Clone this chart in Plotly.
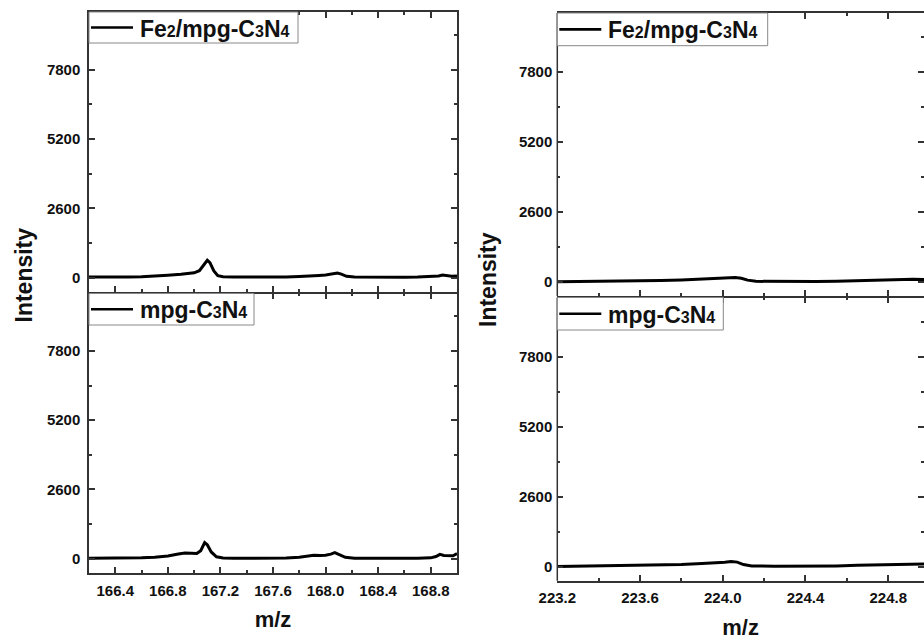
import plotly.graph_objects as go

# ---------------- data ----------------
mz_left_fe = [166.20, 166.30, 166.40, 166.50, 166.60, 166.70, 166.80, 166.90, 166.95, 167.00,
              167.04, 167.07, 167.10, 167.12, 167.15, 167.18, 167.22, 167.30, 167.40, 167.50,
              167.60, 167.70, 167.80, 167.88, 167.95, 168.00, 168.05, 168.09, 168.12, 168.16,
              168.22, 168.30, 168.40, 168.50, 168.60, 168.70, 168.80, 168.86, 168.89, 168.92,
              168.96, 169.00]
int_left_fe = [20, 15, 20, 20, 30, 50, 90, 125, 140, 180,
               260, 450, 650, 560, 250, 70, 30, 20, 15, 15,
               15, 20, 40, 75, 80, 95, 130, 170, 130, 50,
               20, 15, 15, 15, 15, 20, 30, 60, 100, 70,
               50, 60]

mz_left_mpg = [166.20, 166.30, 166.40, 166.50, 166.60, 166.70, 166.80, 166.88, 166.93, 166.98,
               167.02, 167.05, 167.08, 167.10, 167.13, 167.17, 167.22, 167.30, 167.40, 167.50,
               167.60, 167.70, 167.80, 167.87, 167.91, 167.96, 168.00, 168.04, 168.07, 168.10,
               168.15, 168.22, 168.30, 168.40, 168.50, 168.60, 168.70, 168.80, 168.84, 168.87,
               168.90, 168.94, 168.97, 169.00]
int_left_mpg = [15, 15, 15, 20, 30, 55, 100, 170, 210, 200,
                190, 300, 600, 520, 250, 70, 25, 15, 10, 10,
                15, 20, 50, 100, 125, 115, 125, 170, 225, 160,
                50, 15, 10, 10, 10, 10, 15, 30, 80, 160,
                120, 100, 110, 190]

mz_right_fe = [223.20, 223.30, 223.40, 223.50, 223.60, 223.70, 223.80, 223.90, 223.97, 224.02,
               224.06, 224.09, 224.12, 224.16, 224.25, 224.35, 224.45, 224.55, 224.65, 224.75,
               224.85, 224.92, 224.975]
int_right_fe = [10, 15, 15, 20, 35, 55, 75, 100, 115, 140,
                165, 140, 70, 25, 15, 15, 15, 25, 45, 70,
                100, 105, 95]

mz_right_mpg = [223.20, 223.30, 223.40, 223.50, 223.60, 223.70, 223.80, 223.90, 223.97, 224.01,
                224.04, 224.07, 224.10, 224.14, 224.25, 224.35, 224.45, 224.55, 224.65, 224.75,
                224.85, 224.93, 224.975]
int_right_mpg = [10, 25, 25, 30, 45, 60, 85, 120, 140, 170,
                 190, 170, 80, 30, 20, 15, 20, 30, 50, 70,
                 95, 110, 100]

y_tickvals = [0, 2600, 5200, 7800]
x_left_ticks = [166.4, 166.8, 167.2, 167.6, 168.0, 168.4, 168.8]
x_right_ticks = [223.2, 223.6, 224.0, 224.4, 224.8]

SUB = "<span style='font-size:16px'>{}</span>"
label_fe = "<b>Fe" + SUB.format("2") + "/mpg-C" + SUB.format("3") + "N" + SUB.format("4") + "</b>"
label_mpg = "<b>mpg-C" + SUB.format("3") + "N" + SUB.format("4") + "</b>"

# ---------------- layout helpers ----------------
W, H = 924, 640
def PX(x):
    return x / W
def PY(y):
    return 1 - y / H

FONT = "Liberation Sans, Arial, sans-serif"
AXC = "#333333"

fig = go.Figure()
line = dict(color="black", width=3)
fig.add_trace(go.Scatter(x=mz_left_fe, y=int_left_fe, mode="lines", line=line, xaxis="x", yaxis="y", showlegend=False))
fig.add_trace(go.Scatter(x=mz_left_mpg, y=int_left_mpg, mode="lines", line=line, xaxis="x2", yaxis="y2", showlegend=False))
fig.add_trace(go.Scatter(x=mz_right_fe, y=int_right_fe, mode="lines", line=line, xaxis="x3", yaxis="y3", showlegend=False))
fig.add_trace(go.Scatter(x=mz_right_mpg, y=int_right_mpg, mode="lines", line=line, xaxis="x4", yaxis="y4", showlegend=False))

tickfont = dict(family=FONT, size=15, color="#111111", weight="bold")
minor_common = dict(ticks="inside", ticklen=3, tickwidth=1.5, tickcolor=AXC)

def xax(dom, rng, tickvals, anchor, labels, title=None):
    d = dict(domain=dom, range=rng, tickvals=tickvals, ticktext=[f"{v:.1f}" for v in tickvals],
             ticks="inside", ticklen=6, tickwidth=1.5, tickcolor=AXC,
             minor=dict(dtick=0.2, tick0=tickvals[0], **minor_common),
             showline=True, linecolor=AXC, linewidth=1.5, mirror="ticks",
             showgrid=False, zeroline=False, anchor=anchor, showticklabels=labels,
             tickfont=tickfont, ticklabelstandoff=3, automargin=False)
    if title:
        d["title"] = dict(text="<b>m/z</b>", font=dict(family=FONT, size=22, color="#111111"), standoff=14)
    return d

def yax(dom, rng, anchor, showline=True):
    return dict(domain=dom, range=rng, tickvals=y_tickvals, ticktext=[str(v) for v in y_tickvals],
                ticks="inside", ticklen=6, tickwidth=1.5, tickcolor=AXC,
                minor=dict(dtick=1300, tick0=0, **minor_common),
                showline=showline, linecolor=AXC, linewidth=1.5, mirror="ticks",
                showgrid=False, zeroline=False, anchor=anchor,
                tickfont=tickfont, ticklabelstandoff=4, automargin=False)

# pixel geometry of panels (bottom panels start 1.5px lower so the shared frame lines coincide)
L_x0, L_x1 = 89, 457
L_top = (12, 292)
L_bot = (293.5, 573)
R_x0, R_x1 = 557.3, 924
R_top = (13, 296)
R_bot = (297.5, 580.7)

fig.update_layout(
    width=W, height=H, margin=dict(l=0, r=0, t=0, b=0, autoexpand=False),
    paper_bgcolor="white", plot_bgcolor="white",
    xaxis=xax([PX(L_x0), PX(L_x1)], [166.2, 169.0], x_left_ticks, "y", False),
    yaxis=yax([PY(L_top[1]), PY(L_top[0])], [-540, 9960], "x"),
    xaxis2=xax([PX(L_x0), PX(L_x1)], [166.2, 169.0], x_left_ticks, "y2", True, title=True),
    yaxis2=yax([PY(L_bot[1]), PY(L_bot[0])], [-540, 9960], "x2"),
    xaxis3=xax([PX(R_x0), 1.0], [223.2, 224.973], x_right_ticks, "y3", False),
    yaxis3=yax([PY(R_top[1]), PY(R_top[0])], [-520, 10000], "x3", showline=False),
    xaxis4=xax([PX(R_x0), 1.0], [223.2, 224.973], x_right_ticks, "y4", True, title=True),
    yaxis4=yax([PY(R_bot[1]), PY(R_bot[0])], [-520, 10000], "x4", showline=False),
)

shapes = []
annotations = []

# left spine for the right column (its right spine lies outside the picture)
for (t, b) in (R_top, R_bot):
    shapes.append(dict(type="line", xref="paper", yref="paper",
                       x0=PX(R_x0), x1=PX(R_x0), y0=PY(b), y1=PY(t),
                       line=dict(color=AXC, width=1.5), layer="above"))

# legend boxes: (left, top, right, bottom) px, label
legends = [
    ((L_x0, L_top[0], 298, 43), label_fe),
    ((L_x0, L_bot[0], 254, 325), label_mpg),
    ((R_x0, R_top[0], 767.7, 45.7), label_fe),
    ((R_x0, R_bot[0], 723.3, 330), label_mpg),
]
for (x0, y0, x1, y1), lab in legends:
    shapes.append(dict(type="rect", xref="paper", yref="paper",
                       x0=PX(x0), x1=PX(x1), y0=PY(y1), y1=PY(y0),
                       line=dict(color="#888888", width=1), fillcolor="white", layer="above"))
    yc = (y0 + y1) / 2
    shapes.append(dict(type="line", xref="paper", yref="paper",
                       x0=PX(x0 + 2), x1=PX(x0 + 44), y0=PY(yc), y1=PY(yc),
                       line=dict(color="black", width=2.6), layer="above"))
    annotations.append(dict(xref="paper", yref="paper", x=PX(x0 + 49), y=PY(yc + 1),
                            xanchor="left", yanchor="middle", showarrow=False, text=lab,
                            font=dict(family=FONT, size=23, color="#111111")))

# y axis titles
annotations.append(dict(xref="paper", yref="paper", x=PX(23), y=PY(275.5), text="<b>Intensity</b>",
                        textangle=-90, showarrow=False, xanchor="center", yanchor="middle",
                        font=dict(family=FONT, size=23, color="#111111")))
annotations.append(dict(xref="paper", yref="paper", x=PX(488), y=PY(280), text="<b>Intensity</b>",
                        textangle=-90, showarrow=False, xanchor="center", yanchor="middle",
                        font=dict(family=FONT, size=23, color="#111111")))

fig.update_layout(shapes=shapes, annotations=annotations)

fig.write_html("out.html")
